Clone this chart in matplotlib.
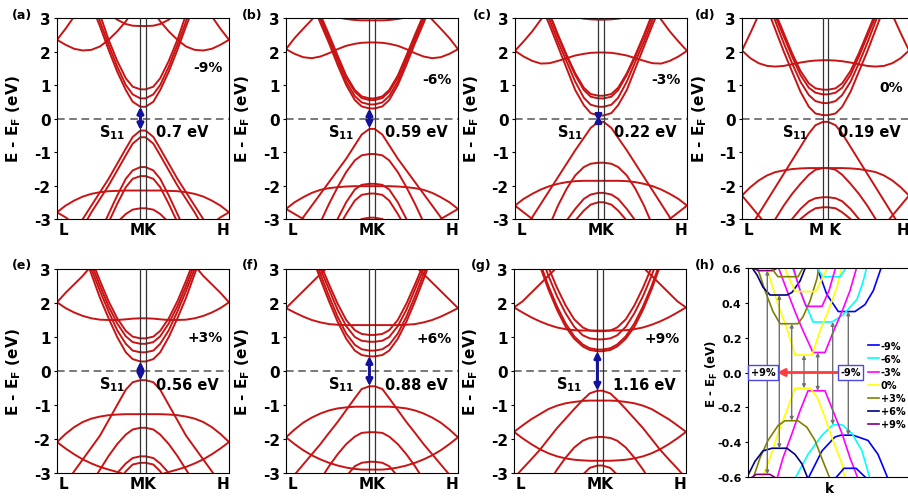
import matplotlib
matplotlib.use('Agg')
from matplotlib import pyplot as plt

plt.rcParams['font.family'] = ['DejaVu Sans']
plt.rcParams['font.weight'] = 'bold'
plt.rcParams['axes.unicode_minus'] = False
plt.rcParams['mathtext.fontset'] = 'dejavusans'
plt.rcParams['mathtext.default'] = 'bf'

# k points from L to M (K..H is the mirror image)
k_half = [0, 0.05, 0.10, 0.15, 0.20, 0.25, 0.30, 0.35, 0.40, 0.44, 0.485]
k_M, k_K = 0.485, 0.515

# bands, energies (eV) on k_half
bands_a = [
    [5, 5, 5, 4.3, 3.4, 2.75, 2.05, 1.4, 0.85, 0.5, 0.35],
    [5, 5, 5, 4.5, 3.6, 2.9, 2.2, 1.55, 1.0, 0.72, 0.6],
    [5, 5, 5, 4.7, 3.8, 3.1, 2.35, 1.72, 1.2, 0.95, 0.87],
    [2.35, 2.68, 3.05, 3.5, 5, 5, 5, 5, 5, 5, 5],
    [2.35, 2.2, 2.08, 2.03, 2.05, 2.15, 2.35, 2.6, 2.9, 3.2, 3.4],
    [5, 5, 5, 5, 5, 3.4, 3.15, 2.95, 2.82, 2.77, 2.76],
    [-4, -3.8, -3.4, -3.0, -2.6, -2.2, -1.8, -1.35, -0.9, -0.55, -0.36],
    [-4.5, -4.2, -3.7, -3.25, -2.8, -2.4, -2.0, -1.55, -1.1, -0.75, -0.56],
    [-5, -5, -5, -4.5, -4, -3.4, -2.85, -2.3, -1.8, -1.55, -1.45],
    [-5, -5, -5, -5, -4.3, -3.7, -3.1, -2.55, -2.05, -1.8, -1.72],
    [-2.8, -2.6, -2.45, -2.33, -2.25, -2.2, -2.17, -2.16, -2.15, -2.15, -2.15],
    [-2.8, -2.95, -3.15, -3.4, -5, -5, -5, -5, -5, -5, -5],
    [-5, -5, -5, -5, -5, -5, -3.5, -3.1, -2.85, -2.72, -2.68],
]
bands_b = [
    [5, 5, 5, 3.5, 2.85, 2.25, 1.6, 1.0, 0.55, 0.36, 0.3],
    [5, 5, 5, 3.6, 2.95, 2.35, 1.72, 1.1, 0.67, 0.48, 0.42],
    [5, 5, 5, 3.7, 3.05, 2.45, 1.83, 1.22, 0.8, 0.61, 0.55],
    [5, 5, 5, 3.75, 3.1, 2.5, 1.88, 1.28, 0.85, 0.66, 0.6],
    [2.07, 2.4, 2.68, 2.95, 3.3, 5, 5, 5, 5, 5, 5],
    [2.07, 1.93, 1.83, 1.8, 1.85, 1.95, 2.07, 2.17, 2.23, 2.26, 2.27],
    [5, 5, 5, 5, 5, 3.1, 3.02, 2.97, 2.94, 2.93, 2.93],
    [-3.6, -3.3, -2.95, -2.6, -2.25, -1.9, -1.55, -1.2, -0.8, -0.48, -0.31],
    [-5, -5, -4.3, -3.7, -3.1, -2.55, -2.05, -1.6, -1.25, -1.1, -1.06],
    [-5, -5, -5, -5, -4.2, -3.6, -3.0, -2.5, -2.12, -1.98, -1.95],
    [-2.7, -2.5, -2.35, -2.22, -2.13, -2.08, -2.05, -2.03, -2.02, -2.02, -2.02],
    [-5, -5, -5, -5, -5, -4, -3.3, -2.85, -2.45, -2.28, -2.24],
    [-2.7, -2.85, -3.0, -3.2, -5, -5, -5, -5, -5, -5, -5],
    [-5, -5, -5, -5, -5, -5, -5, -3.5, -3.15, -3.0, -2.96],
]
bands_c = [
    [5, 5, 5, 3.4, 2.8, 2.15, 1.5, 0.85, 0.4, 0.16, 0.09],
    [5, 5, 5, 3.55, 2.95, 2.3, 1.7, 1.1, 0.62, 0.41, 0.35],
    [5, 5, 5, 3.7, 3.1, 2.45, 1.85, 1.3, 0.85, 0.65, 0.6],
    [5, 5, 5, 3.75, 3.15, 2.5, 1.9, 1.35, 0.92, 0.73, 0.68],
    [2.02, 2.3, 2.6, 2.95, 3.3, 5, 5, 5, 5, 5, 5],
    [2.02, 1.85, 1.72, 1.64, 1.65, 1.72, 1.8, 1.88, 1.93, 1.96, 1.97],
    [5, 5, 5, 5, 5, 5, 3.1, 3.03, 2.98, 2.96, 2.95],
    [-3.6, -3.35, -2.95, -2.55, -2.15, -1.75, -1.35, -0.95, -0.58, -0.28, -0.1],
    [-5, -5, -5, -4, -3.2, -2.6, -2.1, -1.7, -1.45, -1.35, -1.32],
    [-2.6, -2.4, -2.25, -2.12, -2.02, -1.95, -1.9, -1.87, -1.86, -1.86, -1.86],
    [-5, -5, -5, -5, -5, -3.5, -3.05, -2.7, -2.4, -2.27, -2.22],
    [-5, -5, -5, -5, -5, -5, -3.4, -3.05, -2.75, -2.57, -2.5],
    [-2.6, -2.8, -3.0, -3.2, -5, -5, -5, -5, -5, -5, -5],
]
bands_d = [
    [5, 5, 5, 3.3, 2.65, 2.0, 1.4, 0.8, 0.35, 0.15, 0.1],
    [5, 5, 5, 3.5, 2.9, 2.25, 1.65, 1.1, 0.7, 0.52, 0.46],
    [5, 5, 5, 3.7, 3.05, 2.45, 1.85, 1.3, 0.92, 0.77, 0.72],
    [5, 5, 5, 3.8, 3.15, 2.55, 1.95, 1.42, 1.05, 0.9, 0.86],
    [2.03, 2.55, 3.1, 5, 5, 5, 5, 5, 5, 5, 5],
    [2.03, 1.8, 1.65, 1.57, 1.55, 1.57, 1.62, 1.67, 1.71, 1.73, 1.74],
    [-3.55, -3.25, -2.85, -2.45, -2.05, -1.65, -1.25, -0.85, -0.45, -0.2, -0.1],
    [-2.3, -2.05, -1.85, -1.7, -1.6, -1.55, -1.51, -1.49, -1.48, -1.48, -1.48],
    [-5, -4.5, -4, -3.5, -3.0, -2.6, -2.25, -1.95, -1.68, -1.53, -1.48],
    [-5, -5, -5, -5, -4, -3.4, -3.0, -2.7, -2.47, -2.38, -2.35],
    [-5, -5, -5, -5, -5, -4, -3.4, -3.0, -2.8, -2.68, -2.65],
    [-2.3, -2.6, -2.9, -3.2, -5, -5, -5, -5, -5, -5, -5],
]
bands_e = [
    [5, 5, 5, 3.55, 2.85, 2.15, 1.55, 1.0, 0.55, 0.35, 0.28],
    [5, 5, 5, 3.7, 3.0, 2.35, 1.75, 1.2, 0.8, 0.6, 0.55],
    [5, 5, 5, 3.85, 3.15, 2.5, 1.9, 1.4, 1.02, 0.85, 0.8],
    [5, 5, 5, 4, 3.3, 2.65, 2.05, 1.55, 1.18, 1.01, 0.96],
    [2.02, 2.3, 2.55, 2.8, 3.1, 5, 5, 5, 5, 5, 5],
    [2.02, 1.85, 1.72, 1.62, 1.55, 1.51, 1.5, 1.5, 1.52, 1.54, 1.55],
    [-3.65, -3.3, -2.95, -2.6, -2.25, -1.9, -1.45, -1.0, -0.55, -0.33, -0.27],
    [-2.09, -1.85, -1.65, -1.5, -1.4, -1.34, -1.3, -1.28, -1.27, -1.27, -1.27],
    [-2.09, -2.28, -2.45, -2.6, -2.72, -2.82, -2.9, -2.97, -3.05, -5, -5],
    [-5, -5, -5, -4, -3.3, -2.9, -2.5, -2.15, -1.87, -1.72, -1.67],
    [-5, -5, -5, -5, -5, -5, -3.4, -3.0, -2.72, -2.56, -2.51],
    [-5, -5, -5, -5, -5, -5, -5, -3.3, -2.95, -2.75, -2.7],
]
bands_f = [
    [5, 5, 5, 3.4, 2.7, 2.05, 1.45, 0.95, 0.6, 0.47, 0.43],
    [5, 5, 5, 3.5, 2.85, 2.2, 1.6, 1.1, 0.77, 0.64, 0.6],
    [5, 5, 5, 3.7, 3.0, 2.4, 1.8, 1.32, 1.0, 0.89, 0.86],
    [5, 5, 5, 3.85, 3.15, 2.55, 1.98, 1.5, 1.2, 1.09, 1.06],
    [1.85, 2.1, 2.35, 2.6, 2.85, 3.1, 5, 5, 5, 5, 5],
    [1.85, 1.72, 1.6, 1.5, 1.43, 1.38, 1.36, 1.35, 1.35, 1.35, 1.35],
    [-3.35, -3.05, -2.75, -2.45, -2.15, -1.82, -1.5, -1.15, -0.8, -0.53, -0.45],
    [-1.95, -1.72, -1.52, -1.37, -1.25, -1.16, -1.1, -1.07, -1.05, -1.05, -1.05],
    [-1.95, -2.15, -2.33, -2.48, -2.6, -2.7, -2.78, -2.84, -2.88, -2.9, -2.9],
    [-5, -5, -4.2, -3.7, -3.2, -2.8, -2.45, -2.15, -1.93, -1.82, -1.8],
    [-5, -5, -5, -5, -5, -5, -5, -3.1, -2.8, -2.7, -2.67],
]
bands_g = [
    [5, 5, 5, 3.1, 2.4, 1.8, 1.3, 0.95, 0.72, 0.62, 0.58],
    [5, 5, 5, 3.2, 2.5, 1.9, 1.4, 1.02, 0.78, 0.67, 0.63],
    [5, 5, 5, 3.5, 2.8, 2.2, 1.7, 1.3, 1.05, 0.96, 0.93],
    [5, 5, 5, 3.75, 3.05, 2.45, 1.93, 1.52, 1.28, 1.19, 1.17],
    [1.87, 2.05, 2.3, 2.55, 2.8, 3.05, 5, 5, 5, 5, 5],
    [1.87, 1.72, 1.58, 1.46, 1.36, 1.28, 1.23, 1.2, 1.19, 1.19, 1.19],
    [-3.15, -2.87, -2.6, -2.32, -2.0, -1.68, -1.4, -1.12, -0.85, -0.66, -0.58],
    [-1.79, -1.6, -1.42, -1.27, -1.12, -1.02, -0.95, -0.91, -0.88, -0.87, -0.87],
    [-1.79, -1.98, -2.15, -2.3, -2.42, -2.51, -2.57, -2.61, -2.63, -2.64, -2.64],
    [-5, -5, -5, -4, -3.3, -2.9, -2.55, -2.25, -2.05, -1.97, -1.94],
    [-5, -5, -5, -5, -5, -5, -5, -3.3, -3.05, -2.85, -2.78],
]

panel_tags = ['(a)', '(b)', '(c)', '(d)', '(e)', '(f)', '(g)']
strains = ['-9%', '-6%', '-3%', '0%', '+3%', '+6%', '+9%']
gap_text = ['0.7 eV', '0.59 eV', '0.22 eV', '0.19 eV', '0.56 eV', '0.88 eV', '1.16 eV']
gap_lo = [-0.35, -0.3, -0.1, None, -0.28, -0.44, -0.58]
gap_hi = [0.35, 0.3, 0.1, None, 0.28, 0.44, 0.58]
strain_y = [1.53, 1.18, 1.18, 0.93, 0.99, 0.96, 0.96]
mk_labels = ['MK', 'MK', 'MK', 'M K', 'MK', 'MK', 'MK']
all_bands = [bands_a, bands_b, bands_c, bands_d, bands_e, bands_f, bands_g]

# panel (h): lowest conduction / highest valence bands, k in arbitrary units
h_labels = ['-9%', '-6%', '-3%', '0%', '+3%', '+6%', '+9%']
h_colors = ['#0000ff', '#00ffff', '#ff00ff', '#ffff00', '#808000', '#000080', '#800080']
h_cb_x = [[68.7, 78.7, 90.3, 107, 117, 125.3, 133.7],
          [44, 55, 65, 84, 95, 109, 115, 119],
          [30, 39, 47, 55, 65, 77, 85, 94, 102, 109],
          [19, 22, 30, 39, 47, 64, 72, 80, 89, 94],
          [9, 17, 25, 32, 50, 55, 62, 69, 71],
          [3, 9, 15, 22, 39, 44, 52, 58],
          [2, 10, 25, 32]]
h_cb_y = [[0.61, 0.45, 0.35, 0.35, 0.39, 0.47, 0.61],
          [0.61, 0.43, 0.29, 0.29, 0.33, 0.42, 0.52, 0.61],
          [0.61, 0.47, 0.35, 0.24, 0.115, 0.115, 0.23, 0.35, 0.47, 0.61],
          [0.61, 0.54, 0.39, 0.25, 0.10, 0.10, 0.24, 0.35, 0.49, 0.61],
          [0.61, 0.47, 0.35, 0.28, 0.28, 0.32, 0.41, 0.54, 0.61],
          [0.61, 0.56, 0.49, 0.445, 0.445, 0.46, 0.525, 0.61],
          [0.61, 0.585, 0.585, 0.61]]
h_vb_x = [[60, 74, 87, 93, 105, 120, 130, 140],
          [47, 60, 74, 85, 94, 104, 114, 122],
          [29, 35, 44, 52, 60, 77, 85, 94, 102, 110],
          [14, 22, 30, 40, 47, 62, 69, 77, 85, 94, 97],
          [5, 12, 20, 30, 37, 50, 59, 67, 75, 82],
          [0, 7, 15, 24, 39, 47, 54, 60],
          [2, 8, 22, 29]]
h_vb_y = [[-0.61, -0.45, -0.37, -0.36, -0.36, -0.39, -0.47, -0.61],
          [-0.61, -0.47, -0.36, -0.30, -0.30, -0.35, -0.45, -0.61],
          [-0.61, -0.49, -0.35, -0.22, -0.105, -0.105, -0.22, -0.35, -0.49, -0.61],
          [-0.61, -0.49, -0.35, -0.2, -0.09, -0.09, -0.14, -0.26, -0.39, -0.525, -0.61],
          [-0.61, -0.49, -0.39, -0.305, -0.277, -0.277, -0.315, -0.39, -0.51, -0.61],
          [-0.59, -0.51, -0.45, -0.435, -0.435, -0.47, -0.525, -0.61],
          [-0.61, -0.585, -0.585, -0.61]]
# second bands (strain index, x, y)
h_extra = [(0, [87, 96, 108, 119], [-0.61, -0.55, -0.55, -0.61]),
           (1, [68, 75, 92, 99], [0.61, 0.55, 0.55, 0.61]),
           (2, [45, 52, 58, 74, 81, 88], [0.61, 0.47, 0.38, 0.38, 0.47, 0.61]),
           (3, [36, 47, 68, 80], [0.61, 0.465, 0.465, 0.61]),
           (4, [22, 30, 50, 56], [0.61, 0.55, 0.55, 0.61])]
h_gap_x = [100.3, 84.7, 69.7, 56, 43.7, 31.3, 19.3]
h_gap_top = [0.35, 0.29, 0.115, 0.10, 0.28, 0.445, 0.585]
h_gap_bot = [-0.36, -0.30, -0.105, -0.09, -0.277, -0.435, -0.585]

W, H = 908, 502
fig = plt.figure(figsize=(W / 100, H / 100), dpi=100)

# axes boxes in pixels: left, top, width, height
px_boxes = [(57, 19, 172, 201), (286, 19, 172, 201), (515, 19, 172, 201), (742, 19, 167, 201),
            (57, 270, 172, 204), (286, 270, 172, 204), (514, 270, 172, 204)]
tag_pos = [(22, 15), (252, 15), (482, 15), (705, 15), (22, 265), (251, 265), (481, 265)]

red = '#c81414'
for i in range(7):
    l, t, w, h = px_boxes[i]
    ax = fig.add_axes([l / W, 1 - (t + h) / H, w / W, h / H])
    for b in all_bands[i]:
        kk = k_half + [1 - x for x in k_half[::-1]]
        ee = b + b[::-1]
        ax.plot(kk, ee, color=red, lw=1.4, zorder=2)
    ax.axvline(k_M, color='#333333', lw=0.9, zorder=3)
    ax.axvline(k_K, color='#333333', lw=0.9, zorder=3)
    ax.axhline(0, color='#555555', lw=1.1, ls=(0, (5, 3)), zorder=1)
    ax.set_xlim(0, 1)
    ax.set_ylim(-3, 3)
    ax.set_yticks([3, 2, 1, 0, -1, -2, -3])
    ax.set_yticklabels(['3', '2', '1', '0', '-1', '-2', '-3'], fontsize=11, fontweight='bold')
    ax.set_xticks([0.04, 0.5, 0.965])
    ax.set_xticklabels(['L', mk_labels[i], 'H'], fontsize=11, fontweight='bold')
    ax.tick_params(axis='x', length=0, pad=2)
    ax.tick_params(axis='y', length=2.5, width=0.8, pad=2)
    ax.set_ylabel('E - E$_F$ (eV)', fontsize=11, fontweight='bold')
    ax.yaxis.set_label_coords(-0.195, 0.5)
    ax.text(0.965, strain_y[i], strains[i], ha='right', va='center', fontsize=10, fontweight='bold')
    ax.text(0.40, -0.38, 'S$_{11}$', ha='right', va='center', fontsize=10.5)
    ax.text(0.575, -0.4, gap_text[i], ha='left', va='center', fontsize=10.5, fontweight='bold')
    if gap_lo[i] is not None:
        ax.annotate('', xy=(k_M, gap_hi[i]), xytext=(k_M, gap_lo[i]),
                    arrowprops=dict(arrowstyle='<|-|>', color='#12129a', lw=2.2,
                                    mutation_scale=9, shrinkA=0, shrinkB=0), zorder=5)
    fig.text(tag_pos[i][0] / W, 1 - tag_pos[i][1] / H, panel_tags[i], ha='center', va='center',
             fontsize=9, fontweight='bold')

# panel (h)
axh = fig.add_axes([748 / W, 1 - 478 / H, 162 / W, 209 / H])
for j in range(7):
    axh.plot(h_cb_x[j], h_cb_y[j], color=h_colors[j], lw=1.2, label=h_labels[j])
    axh.plot(h_vb_x[j], h_vb_y[j], color=h_colors[j], lw=1.2)
for j, xs, ys in h_extra:
    axh.plot(xs, ys, color=h_colors[j], lw=1.2)
for j in range(7):
    axh.annotate('', xy=(h_gap_x[j], h_gap_top[j]), xytext=(h_gap_x[j], h_gap_bot[j]),
                 arrowprops=dict(arrowstyle='<|-|>', color='#707070', lw=1.0,
                                 mutation_scale=5, shrinkA=0, shrinkB=0))
axh.annotate('', xy=(29, 0), xytext=(91, 0),
             arrowprops=dict(arrowstyle='-|>', color='#ff3b3b', lw=2.0, mutation_scale=11,
                             shrinkA=0, shrinkB=0), zorder=4)
box = dict(boxstyle='square,pad=0.25', fc='white', ec='#4a4ae0', lw=1.0)
axh.text(15, 0, '+9%', ha='center', va='center', fontsize=7, fontweight='bold', bbox=box, zorder=6)
axh.text(102.5, 0, '-9%', ha='center', va='center', fontsize=7, fontweight='bold', bbox=box, zorder=6)
axh.set_xlim(0, 162)
axh.set_ylim(-0.6, 0.6)
axh.set_yticks([0.6, 0.4, 0.2, 0.0, -0.2, -0.4, -0.6])
axh.set_yticklabels(['0.6', '0.4', '0.2', '0.0', '-0.2', '-0.4', '-0.6'], fontsize=8, fontweight='bold')
axh.set_xticks([])
axh.tick_params(axis='y', length=2.5, width=0.8, pad=2)
axh.set_xlabel('k', fontsize=10, fontweight='bold', labelpad=3)
axh.set_ylabel('E - E$_F$ (eV)', fontsize=8.5, fontweight='bold')
axh.yaxis.set_label_coords(-0.17, 0.5)
axh.legend(loc='center left', bbox_to_anchor=(0.742, 0.44), frameon=False,
           handlelength=1.1, handletextpad=0.2, labelspacing=0.32, borderpad=0, borderaxespad=0,
           prop={'weight': 'bold', 'size': 7})
fig.text(705 / W, 1 - 265 / H, '(h)', ha='center', va='center', fontsize=9, fontweight='bold')

fig.savefig('out.png', dpi=100)
